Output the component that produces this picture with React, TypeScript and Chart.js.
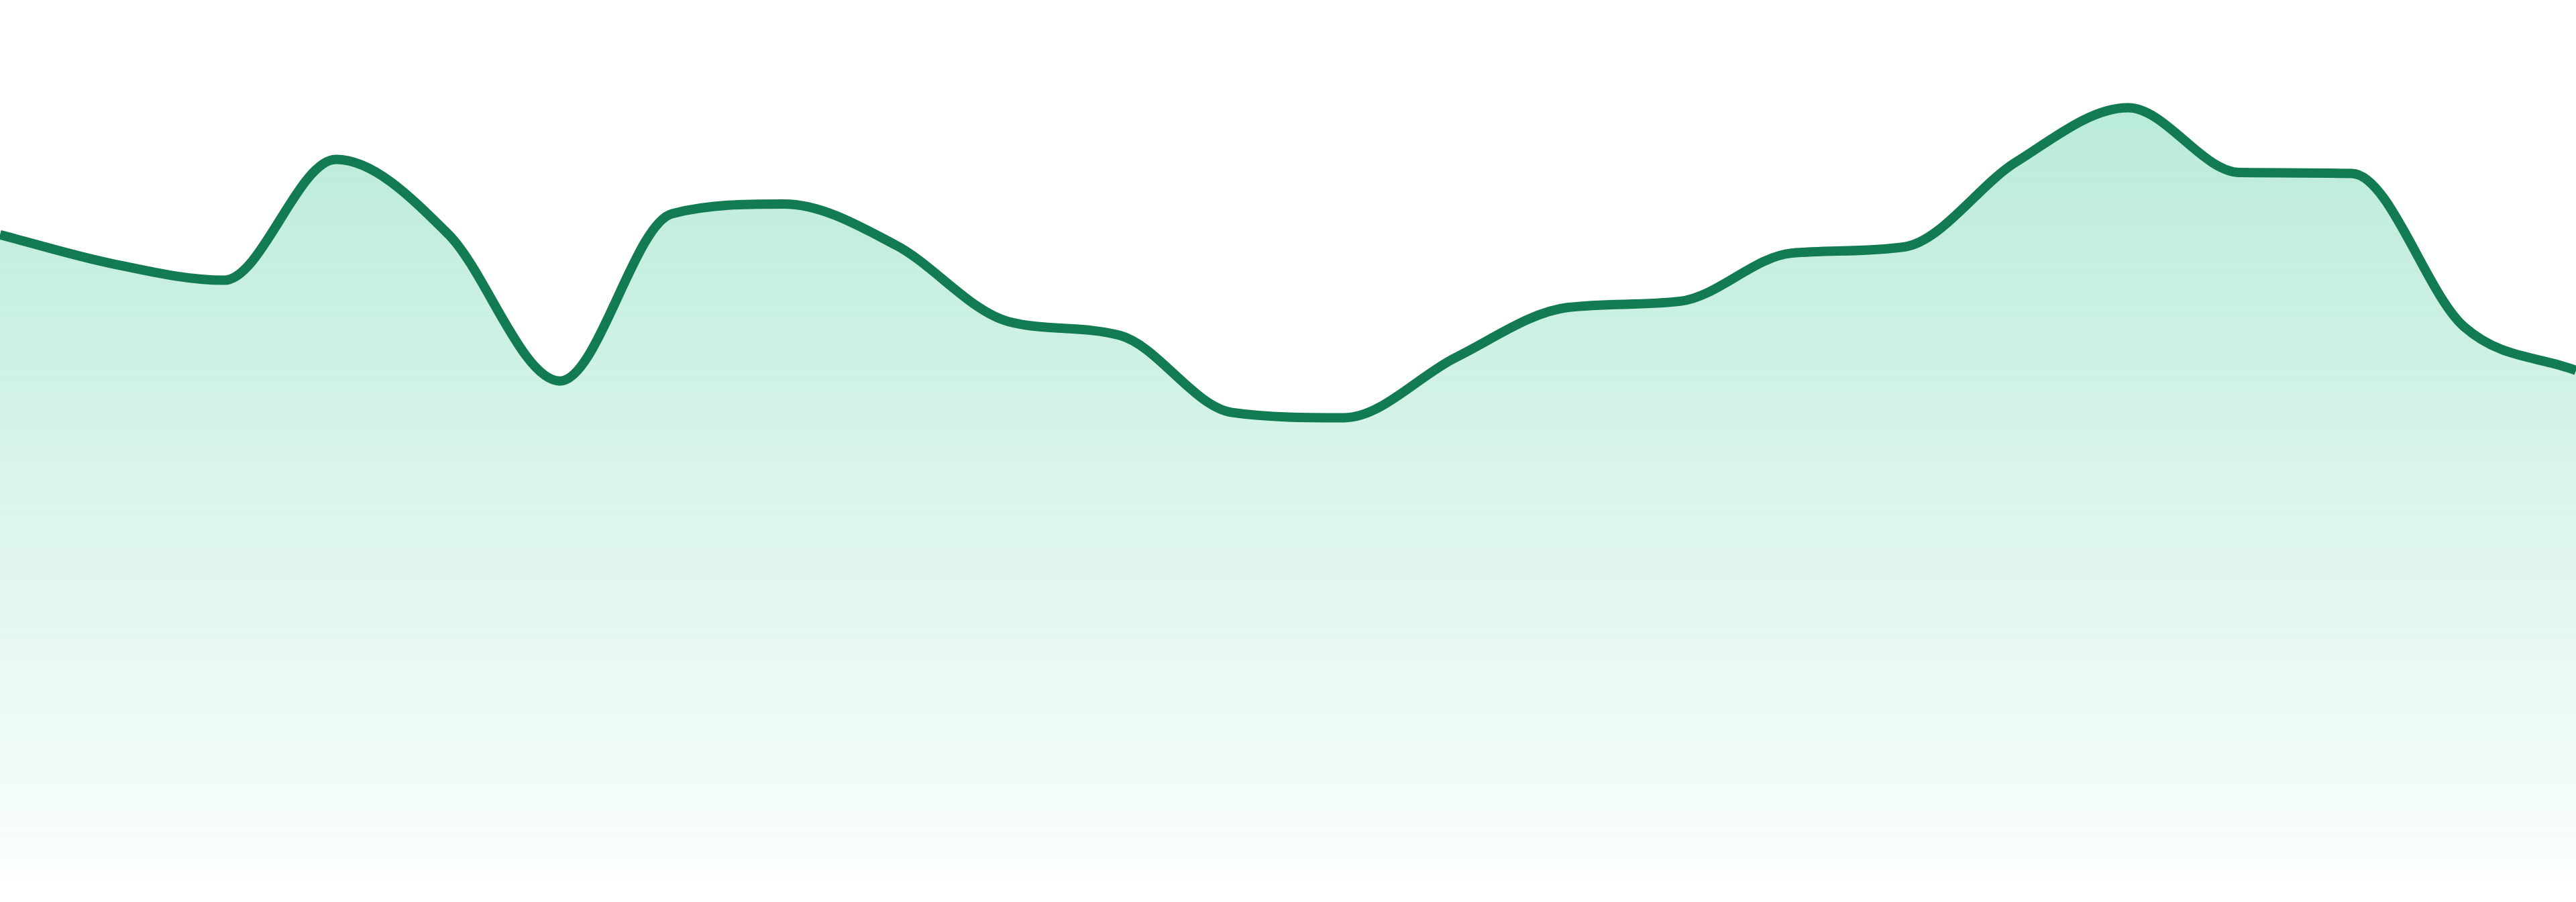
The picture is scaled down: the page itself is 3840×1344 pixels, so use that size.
import React, { useEffect, useRef } from "react";
import { Chart, registerables } from "chart.js";

Chart.register(...registerables);

// 24 evenly spaced samples, left edge to right edge
const labels = [
  "1", "2", "3", "4", "5", "6", "7", "8", "9", "10", "11", "12",
  "13", "14", "15", "16", "17", "18", "19", "20", "21", "22", "23", "24",
];

const values = [
  73.2, 69.9, 68.0, 81.8, 73.3, 56.5, 75.6, 76.7, 72.0, 63.3, 61.7, 52.9,
  52.3, 59.2, 64.9, 65.6, 71.1, 71.8, 81.5, 87.7, 80.3, 80.2, 62.7, 57.7,
];

const yMin = 0;
const yMax = 100;

export default function App() {
  const chartRef = useRef<HTMLCanvasElement | null>(null);
  const chartInstanceRef = useRef<Chart | null>(null);

  useEffect(() => {
    if (!chartRef.current) return;
    const ctx = chartRef.current.getContext("2d");
    if (!ctx) return;

    if (chartInstanceRef.current) {
      chartInstanceRef.current.destroy();
    }

    chartInstanceRef.current = new Chart(ctx, {
      type: "line",
      data: {
        labels,
        datasets: [
          {
            data: values,
            borderColor: "#127b51",
            borderWidth: 14,
            cubicInterpolationMode: "monotone",
            pointRadius: 0,
            pointHoverRadius: 0,
            fill: "start",
            backgroundColor: (context: any) => {
              const area = context.chart.chartArea;
              if (!area) return "rgba(16,185,129,0.2)";
              const g = context.chart.ctx.createLinearGradient(0, area.top, 0, area.bottom);
              g.addColorStop(0, "rgba(16,185,129,0.33)");
              g.addColorStop(1, "rgba(16,185,129,0.02)");
              return g;
            },
          },
        ],
      },
      options: {
        responsive: true,
        maintainAspectRatio: false,
        animation: false,
        layout: { padding: { top: 0, left: 0, right: 0, bottom: 39 } },
        plugins: {
          legend: { display: false },
          tooltip: { enabled: false },
        },
        scales: {
          x: { display: false, offset: false },
          y: { display: false, min: yMin, max: yMax },
        },
      },
    });

    return () => {
      if (chartInstanceRef.current) {
        chartInstanceRef.current.destroy();
        chartInstanceRef.current = null;
      }
    };
  }, []);

  return (
    <div style={{ position: "absolute", left: 0, top: 0, width: "3840px", height: "1344px", background: "#fff" }}>
      <canvas ref={chartRef} />
    </div>
  );
}
